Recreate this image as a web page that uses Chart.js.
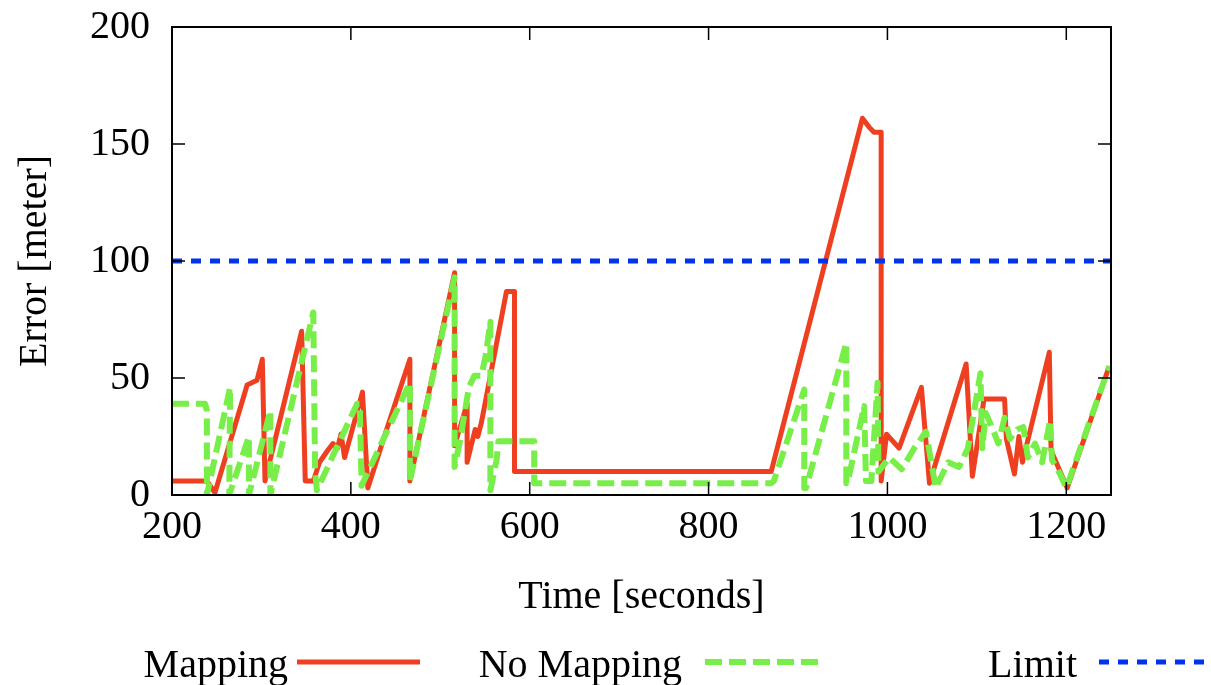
<!DOCTYPE html>
<html>
<head>
<meta charset="utf-8">
<script src="https://cdn.jsdelivr.net/npm/chart.js"></script>
<style>
  html, body { margin: 0; padding: 0; background: #fff; }
  #wrap { width: 1211px; height: 685px; }
</style>
</head>
<body>
<div id="wrap"><canvas id="chart" width="1211" height="685"></canvas></div>
<script>
// Ticks
const xTicks = [200, 400, 600, 800, 1000, 1200];
const yTicks = [0, 50, 100, 150, 200];

// Mapping (red, solid)
const mappingX = [200, 239, 248, 284, 295, 301, 304, 345, 349, 358, 365, 374, 380, 385, 389, 393, 413, 419, 440, 466, 466,
  516, 516, 530, 530, 539, 542, 546, 574, 583, 583, 870, 972, 980, 985, 993, 993, 999, 1013, 1038, 1047, 1088, 1095,
  1108, 1131, 1133, 1142, 1147, 1151, 1181, 1183, 1201, 1248];
const mappingY = [6, 6, 1, 47, 49, 58, 6, 70, 6, 6, 14, 19, 22, 20, 26, 16, 44, 3, 28, 58, 6,
  95, 21, 39, 14, 28, 25, 31, 87, 87, 10, 10, 161, 157, 155, 155, 6, 26, 20, 46, 5, 56, 8,
  41, 41, 24, 9, 25, 14, 61, 19, 3, 55];

// No Mapping (green, dashed)
const noMapX = [200, 237, 239, 239, 265, 264, 286, 286, 310, 310, 358, 360, 362, 407, 410, 412, 466, 466, 516, 516,
  522, 532, 538, 546, 551, 556, 556, 563, 565, 605, 605, 870, 873, 907, 907, 909, 954, 954, 957, 974, 976, 982, 989, 990,
  1002, 1016, 1030, 1043, 1050, 1054, 1068, 1080, 1090, 1104, 1106, 1110, 1118, 1124, 1131, 1137, 1145, 1152, 1157,
  1165, 1173, 1182, 1184, 1193, 1200, 1248];
const noMapY = [39, 39, 36, 0, 46, 0, 25, 0, 36, 0, 78, 10, 2, 39, 39, 4, 48, 6, 93, 12,
  23, 46, 51, 51, 60, 74, 2, 15, 23, 23, 5, 5, 6, 45, 3, 3, 65, 5, 8, 38, 6, 6, 48, 10,
  16, 11, 20, 27, 12, 3, 14, 12, 20, 52, 20, 35, 28, 22, 33, 24, 28, 29, 16,
  22, 14, 32, 15, 9, 3, 55];

// Limit (blue, dotted)
const limitX = [200, 1250];
const limitY = [100, 100];

const serif = "'Liberation Serif', 'Times New Roman', serif";
const bigFont = { family: serif, size: 40 };

function toPoints(xs, ys) {
  return xs.map((x, i) => ({ x: x, y: ys[i] }));
}

// cadre, graduations internes et légende
const frameAndLegend = {
  id: "frameAndLegend",
  afterDatasetsDraw(chart) {
    const { ctx, chartArea: a, scales } = chart;
    ctx.save();
    ctx.strokeStyle = "#000";
    ctx.lineWidth = 2;
    ctx.strokeRect(a.left, a.top, a.right - a.left, a.bottom - a.top);
    ctx.lineWidth = 1.5;
    ctx.beginPath();
    xTicks.forEach((v) => {
      const x = scales.x.getPixelForValue(v);
      ctx.moveTo(x, a.bottom);
      ctx.lineTo(x, a.bottom - 13);
      ctx.moveTo(x, a.top);
      ctx.lineTo(x, a.top + 13);
    });
    yTicks.forEach((v) => {
      const y = scales.y.getPixelForValue(v);
      ctx.moveTo(a.left, y);
      ctx.lineTo(a.left + 13, y);
      ctx.moveTo(a.right, y);
      ctx.lineTo(a.right - 13, y);
    });
    ctx.stroke();
    ctx.restore();
  },
  afterDraw(chart) {
    const { ctx } = chart;
    const slots = [
      { textRight: 288, from: 297, to: 420 },
      { textRight: 682, from: 705, to: 818 },
      { textRight: 1077, from: 1099, to: 1211 },
    ];
    const y = 662;
    ctx.save();
    ctx.font = "40px " + serif;
    ctx.fillStyle = "#000";
    ctx.textAlign = "right";
    ctx.textBaseline = "alphabetic";
    chart.data.datasets.forEach((ds, i) => {
      const s = slots[i];
      ctx.fillText(ds.label, s.textRight, y + 15);
      ctx.strokeStyle = ds.borderColor;
      ctx.lineWidth = ds.borderWidth;
      ctx.setLineDash(ds.borderDash || []);
      ctx.beginPath();
      ctx.moveTo(s.from, y);
      ctx.lineTo(s.to, y);
      ctx.stroke();
    });
    ctx.restore();
  },
};

const ctx = document.getElementById("chart").getContext("2d");
new Chart(ctx, {
  type: "scatter",
  data: {
    datasets: [
      {
        label: "Mapping",
        data: toPoints(mappingX, mappingY),
        borderColor: "#ee4020",
        borderWidth: 5,
        showLine: true,
        pointRadius: 0,
        borderJoinStyle: "round",
        order: 3,
      },
      {
        label: "No Mapping",
        data: toPoints(noMapX, noMapY),
        borderColor: "#78ee48",
        borderWidth: 6,
        borderDash: [17, 7],
        showLine: true,
        pointRadius: 0,
        borderJoinStyle: "round",
        order: 2,
      },
      {
        label: "Limit",
        data: toPoints(limitX, limitY),
        borderColor: "#0033ee",
        borderWidth: 5,
        borderDash: [10, 9],
        showLine: true,
        pointRadius: 0,
        order: 1,
      },
    ],
  },
  options: {
    responsive: false,
    animation: false,
    layout: { padding: { left: 0, right: 100, top: 27, bottom: 60 } },
    plugins: {
      legend: { display: false },
      tooltip: { enabled: false },
    },
    scales: {
      x: {
        type: "linear",
        min: 200,
        max: 1250,
        afterBuildTicks: (s) => {
          s.ticks = xTicks.map((v) => ({ value: v }));
        },
        afterFit: (s) => {
          s.height = 130;
        },
        grid: { display: false, drawTicks: false },
        border: { display: false },
        ticks: {
          color: "#000",
          font: bigFont,
          padding: 8,
          maxRotation: 0,
          callback: (v) => String(v),
        },
        title: {
          display: true,
          text: "Time [seconds]",
          color: "#000",
          font: bigFont,
          padding: { top: 0, bottom: 4 },
        },
      },
      y: {
        type: "linear",
        min: 0,
        max: 200,
        afterBuildTicks: (s) => {
          s.ticks = yTicks.map((v) => ({ value: v }));
        },
        afterFit: (s) => {
          s.width = 172;
          s.paddingTop = 0;
          s.paddingBottom = 0;
        },
        grid: { display: false, drawTicks: false },
        border: { display: false },
        ticks: { color: "#000", font: bigFont, padding: 22, callback: (v) => String(v) },
        title: {
          display: true,
          text: "Error [meter]",
          color: "#000",
          font: bigFont,
          padding: { top: 11, bottom: 0 },
        },
      },
    },
  },
  plugins: [frameAndLegend],
});
</script>
</body>
</html>
